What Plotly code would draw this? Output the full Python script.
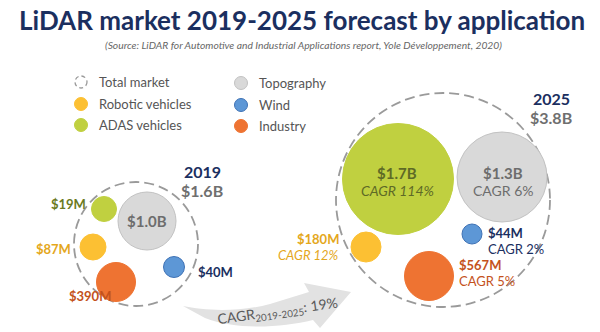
import plotly.graph_objects as go

# ---- data ---------------------------------------------------------------
segments = ["Topography", "ADAS vehicles", "Robotic vehicles", "Wind", "Industry"]
revenue_2019_musd = [1000, 19, 87, 40, 390]
revenue_2025_musd = [1300, 1700, 180, 44, 567]
cagr_2025_pct = [6, 114, 12, 2, 5]
years = ["2019", "2025"]
total_busd = [1.6, 3.8]
overall_cagr_pct = 19
legend_items = ["Total market", "Robotic vehicles", "ADAS vehicles",
                "Topography", "Wind", "Industry"]

# ---- styling / layout ---------------------------------------------------
NAVY = "#1b2f5f"
fill = {"Topography": "#d9d9d9", "ADAS vehicles": "#c0d040",
        "Robotic vehicles": "#fcc033", "Wind": "#5d97d6", "Industry": "#ee7332"}
edge = {"Topography": "#c2c2c2", "ADAS vehicles": "#c0d040",
        "Robotic vehicles": "#fcc033", "Wind": "#3f72b5", "Industry": "#ee7332"}
text_col = {"Topography": "#6d6d6d", "ADAS vehicles": "#6b7a22",
            "Robotic vehicles": "#e4a71c", "Wind": NAVY, "Industry": "#c4521c"}

# bubble centre (x, y) and radius, in pixel units of the canvas
bubbles_2019 = {"Topography": (147, 221, 29), "ADAS vehicles": (104, 209, 12.5),
                "Robotic vehicles": (93, 247, 13), "Wind": (174, 267, 10.5),
                "Industry": (116, 282, 19.5)}
bubbles_2025 = {"Topography": (502, 177, 45), "ADAS vehicles": (398, 179, 55.5),
                "Robotic vehicles": (366, 247, 15), "Wind": (472, 234, 10),
                "Industry": (429, 276, 24.5)}
totals_circle = [(136, 244, 62), (443, 200, 107)]

FONT = "Lato"


def money(musd):
    return f"${musd / 1000:.1f}B" if musd >= 1000 else f"${musd}M"


fig = go.Figure()
shapes = []
ann = []


def circle(cx, cy, r, fc, lc, lw=1.0, dash=None):
    shp = dict(type="circle", xref="x", yref="y", x0=cx - r, x1=cx + r,
               y0=cy - r, y1=cy + r, fillcolor=fc, layer="above",
               line=dict(color=lc, width=lw))
    if dash:
        shp["line"]["dash"] = dash
    shapes.append(shp)


def label(x, y, text, color, size, bold=False, italic=False, xanchor="center",
          angle=0, yanchor="middle", yshift=0):
    ann.append(dict(x=x, y=y, xref="x", yref="y", text=text, showarrow=False,
                    xanchor=xanchor, yanchor=yanchor, textangle=angle,
                    yshift=yshift,
                    font=dict(family=FONT, size=size, color=color,
                              weight=("bold" if bold else "normal"),
                              style=("italic" if italic else "normal"))))


# growth arrow
shapes.append(dict(
    type="path", xref="x", yref="y", layer="below",
    path=("M 183 306 C 205 311, 240 312, 270 304 L 309 292 L 304 283 "
          "L 351 292 L 320 328 L 313 320 C 280 328, 235 330, 205 318 Z"),
    fillcolor="#e2e2e2", line=dict(width=0)))

# total market dashed circles
for cx, cy, r in totals_circle:
    circle(cx, cy, r, "rgba(0,0,0,0)", "#9a9a9a", 1.8, "10px,5px")

# segment bubbles
for seg in segments:
    for pos in (bubbles_2019, bubbles_2025):
        cx, cy, r = pos[seg]
        circle(cx, cy, r, fill[seg], edge[seg], 1.0)

# 2019 labels
v19 = dict(zip(segments, revenue_2019_musd))
label(147, 221, money(v19["Topography"]), "#6d6d6d", 15, bold=True)
label(88, 204, money(v19["ADAS vehicles"]), text_col["ADAS vehicles"], 13, bold=True, xanchor="right")
label(73, 249, money(v19["Robotic vehicles"]), text_col["Robotic vehicles"], 13, bold=True, xanchor="right")
label(196, 272, money(v19["Wind"]), text_col["Wind"], 13, bold=True, xanchor="left")
label(67, 296, money(v19["Industry"]), text_col["Industry"], 13, bold=True, xanchor="left")

# 2025 labels
v25 = dict(zip(segments, revenue_2025_musd))
c25 = dict(zip(segments, cagr_2025_pct))
label(397, 173, money(v25["ADAS vehicles"]), "#5e6a26", 15, bold=True)
label(397, 190, f"CAGR {c25['ADAS vehicles']}%", "#5e6a26", 14, italic=True)
label(503, 173, money(v25["Topography"]), "#6d6d6d", 15, bold=True)
label(503, 190, f"CAGR {c25['Topography']}%", "#6d6d6d", 14)
label(341, 239, money(v25["Robotic vehicles"]), text_col["Robotic vehicles"], 13, bold=True, xanchor="right")
label(341, 255, f"CAGR {c25['Robotic vehicles']}%", text_col["Robotic vehicles"], 13, italic=True, xanchor="right")
label(486, 233, money(v25["Wind"]), text_col["Wind"], 13, bold=True, xanchor="left")
label(486, 249, f"CAGR {c25['Wind']}%", text_col["Wind"], 13, xanchor="left")
label(457, 265, money(v25["Industry"]), text_col["Industry"], 13, bold=True, xanchor="left")
label(457, 281, f"CAGR {c25['Industry']}%", text_col["Industry"], 13, xanchor="left")

# year / total headers (stacked: year above, total below)
for (hx, hy), yr, tot in zip([(202, 180), (551, 107)], years, total_busd):
    label(hx, hy + 1, yr, NAVY, 16, bold=True, yanchor="bottom", yshift=-2)
    label(hx, hy + 1, f"${tot}B", "#6f6f6f", 16, bold=True, yanchor="top", yshift=2)

# arrow caption
label(277, 311, f"CAGR<sub>2019-2025</sub>: {overall_cagr_pct}%", "#5a5a5a", 14,
      angle=-8)

# legend
legend_pos = [(81, 82), (81, 104), (81, 125), (241, 83), (241, 105), (241, 126)]
for name, (lx, ly) in zip(legend_items, legend_pos):
    if name == "Total market":
        circle(lx, ly, 6, "rgba(0,0,0,0)", "#9a9a9a", 1.3, "4px,3px")
    else:
        circle(lx, ly, 6.5, fill[name], edge[name], 1.0)
    label(lx + 16, ly, name, "#555555", 13, xanchor="left")

# title block
label(302, 20, "LiDAR market 2019-2025 forecast by application", NAVY, 26, bold=True)
label(303, 45, "(Source: LiDAR for Automotive and Industrial Applications report, "
      "Yole Développement, 2020)", "#666666", 10.3, italic=True)

fig.update_layout(
    width=600, height=332, autosize=False,
    margin=dict(l=0, r=0, t=0, b=0),
    paper_bgcolor="white", plot_bgcolor="white",
    xaxis=dict(range=[0, 600], visible=False, fixedrange=True),
    yaxis=dict(range=[332, 0], visible=False, fixedrange=True),
    shapes=shapes, annotations=ann, showlegend=False,
)
fig.write_html("out.html")
